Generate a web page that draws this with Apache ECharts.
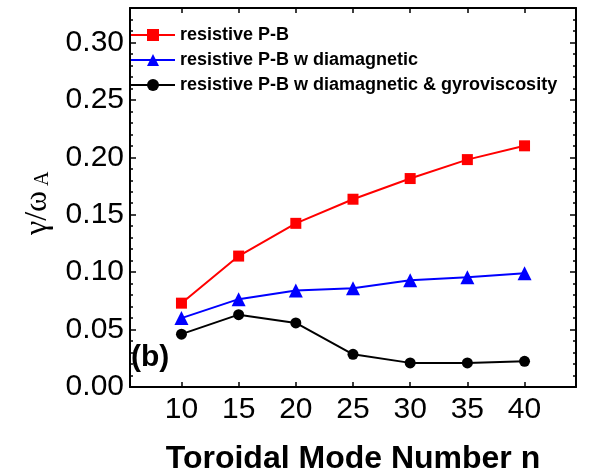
<!DOCTYPE html>
<html>
<head>
<meta charset="utf-8">
<script src="https://cdn.jsdelivr.net/npm/echarts@6/dist/echarts.min.js"></script>
<style>html,body{margin:0;padding:0;background:#fff}#c{width:595px;height:473px}</style>
</head>
<body>
<div id="c"></div>
<script>
var modeNumbers = [10, 15, 20, 25, 30, 35, 40];
var resistivePB = [0.073, 0.114, 0.1425, 0.1635, 0.1815, 0.198, 0.21];
var withDiamagnetic = [0.060, 0.0765, 0.084, 0.086, 0.093, 0.0955, 0.099];
var withGyroviscosity = [0.046, 0.063, 0.0558, 0.0285, 0.021, 0.021, 0.0224];
var seriesNames = ['resistive P-B', 'resistive P-B w diamagnetic', 'resistive P-B w diamagnetic & gyroviscosity'];
var xTicks = [10, 15, 20, 25, 30, 35, 40];
var yTicks = [0, 0.05, 0.10, 0.15, 0.20, 0.25, 0.30];

function pairs(vals) { return modeNumbers.map(function (n, i) { return [n, vals[i]]; }); }

var chart = echarts.init(document.getElementById('c'));
var axisLineStyle = { show: true, onZero: false, lineStyle: { color: '#000', width: 2 } };
var xMin = 5.5, xMax = 44.5, yMin = 0, yMax = 0.33;

function xAxisDef(pos, labels) {
  return {
    type: 'value', position: pos, min: xMin, max: xMax,
    axisLine: axisLineStyle,
    splitLine: { show: false },
    axisTick: { show: true, inside: true, length: 5, lineStyle: { color: '#000', width: 1.5 }, customValues: xTicks },
    axisLabel: labels ? { show: true, customValues: xTicks, fontSize: 30, fontFamily: 'Liberation Sans, Arial', color: '#000', margin: 8 } : { show: false },
    name: labels ? 'Toroidal Mode Number n' : '',
    nameLocation: 'middle', nameGap: 56,
    nameTextStyle: { fontSize: 32, fontWeight: 'bold', fontFamily: 'Liberation Sans, Arial', color: '#000' }
  };
}
function yAxisDef(pos, labels, minor) {
  return {
    type: 'value', position: pos, min: yMin, max: yMax,
    interval: minor ? 0.01 : 0.05,
    axisLine: minor ? { show: false } : axisLineStyle,
    splitLine: { show: false },
    axisTick: { show: true, inside: true, length: minor ? 3 : 6, lineStyle: { color: '#000', width: 1.5 } },
    axisLabel: labels ? {
      show: true, fontSize: 30, fontFamily: 'Liberation Sans, Arial', color: '#000', margin: 6,
      showMaxLabel: false,
      formatter: function (v) { return v.toFixed(2); }
    } : { show: false }
  };
}

var commonSeries = { type: 'line', xAxisIndex: 0, yAxisIndex: 0, lineStyle: { width: 2 }, emphasis: { disabled: true } };

chart.setOption({
  animation: false,
  backgroundColor: '#fff',
  grid: { left: 130, top: 8, right: 19, bottom: 86, containLabel: false, outerBoundsMode: 'none' },
  xAxis: [xAxisDef('bottom', true), xAxisDef('top', false)],
  yAxis: [yAxisDef('left', true, false), yAxisDef('left', false, true), yAxisDef('right', false, false), yAxisDef('right', false, true)],
  legend: {
    left: 130, top: 26, orient: 'vertical', padding: 0,
    itemWidth: 44, itemHeight: 15, itemGap: 7,
    textStyle: { fontSize: 18, fontWeight: 'bold', fontFamily: 'Liberation Sans, Arial', color: '#000' },
    data: seriesNames
  },
  series: [
    Object.assign({}, commonSeries, { name: seriesNames[0], data: pairs(resistivePB), symbol: 'rect', symbolSize: 11, itemStyle: { color: '#ff0000' }, lineStyle: { width: 2, color: '#ff0000' } }),
    Object.assign({}, commonSeries, { name: seriesNames[1], data: pairs(withDiamagnetic), symbol: 'triangle', symbolSize: 14, itemStyle: { color: '#0000ff' }, lineStyle: { width: 2, color: '#0000ff' } }),
    Object.assign({}, commonSeries, { name: seriesNames[2], data: pairs(withGyroviscosity), symbol: 'circle', symbolSize: 11, itemStyle: { color: '#000' }, lineStyle: { width: 2, color: '#000' } })
  ],
  graphic: [
    { type: 'text', left: 131, top: 343, style: { text: '(b)', fontSize: 30, fontWeight: 'bold', fontFamily: 'Liberation Sans, Arial', fill: '#000' } },
    { type: 'group', x: 54, y: 235, rotation: Math.PI / 2, children: [
      { type: 'text', x: 0, y: 0, style: { text: 'γ/ω', fontSize: 32, fontFamily: 'Liberation Serif, Times New Roman, serif', fill: '#000', textAlign: 'left', textVerticalAlign: 'bottom' } },
      { type: 'text', x: 49, y: -1, style: { text: 'A', fontSize: 20, fontFamily: 'Liberation Serif, Times New Roman, serif', fill: '#000', textAlign: 'left', textVerticalAlign: 'bottom' } }
    ] }
  ]
});
</script>
</body>
</html>
